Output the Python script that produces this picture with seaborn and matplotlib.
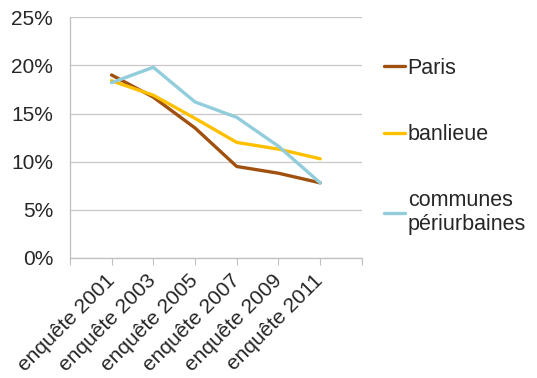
import pandas as pd
import matplotlib.pyplot as plt
import seaborn as sns
from matplotlib.ticker import PercentFormatter

# Values (in %)
enquetes = ["enquête 2001", "enquête 2003", "enquête 2005",
            "enquête 2007", "enquête 2009", "enquête 2011"]
paris = [19.0, 16.7, 13.5, 9.5, 8.8, 7.8]
banlieue = [18.4, 16.9, 14.5, 12.0, 11.3, 10.3]
periurbain = [18.2, 19.8, 16.2, 14.6, 11.6, 7.8]

series = {
    "Paris": paris,
    "banlieue": banlieue,
    "communes\npériurbaines": periurbain,
}
colors = {
    "Paris": "#A0500F",
    "banlieue": "#FFC000",
    "communes\npériurbaines": "#92CDDC",
}

rows = []
for name, vals in series.items():
    for i, v in enumerate(vals):
        rows.append({"pos": i, "enquete": enquetes[i], "zone": name, "pct": v})
df = pd.DataFrame(rows)

sns.set_style("white")
plt.rcParams["font.family"] = ["Liberation Sans", "DejaVu Sans"]

fig = plt.figure(figsize=(5.37, 3.78), dpi=100)
ax = fig.add_axes([0.130, 0.3175, 0.544, 0.637])

sns.lineplot(data=df, x="pos", y="pct", hue="zone", hue_order=list(series.keys()),
             palette=colors, linewidth=2.4, ax=ax, legend=False)

ax.set_ylim(0, 25)
ax.set_yticks([0, 5, 10, 15, 20, 25])
ax.yaxis.set_major_formatter(PercentFormatter(decimals=0))
ax.set_xlim(-1, 6)
ax.set_xticks(range(-1, 7))
ax.set_xticklabels([""] + enquetes + [""], rotation=45, ha="right",
                   va="center", rotation_mode="anchor")
ax.tick_params(axis="x", length=5, color="#BFBFBF", direction="out",
               labelsize=15, pad=9, bottom=True)
ax.tick_params(axis="y", length=0, labelsize=15, pad=12)
ax.grid(axis="y", color="#C8C8C8", linewidth=0.9)
ax.set_axisbelow(True)
for s in ["top", "right"]:
    ax.spines[s].set_visible(False)
for s in ["left", "bottom"]:
    ax.spines[s].set_color("#BFBFBF")
    ax.spines[s].set_linewidth(0.9)
ax.set_xlabel("")
ax.set_ylabel("")

handles = [plt.Line2D([], [], color=colors[k], linewidth=2.4) for k in series]
fig.legend(handles, list(series.keys()), loc="upper left",
           bbox_to_anchor=(0.715, 0.847), frameon=False, fontsize=15.5,
           handlelength=1.0, handletextpad=0.1, labelspacing=2.1,
           borderpad=0, borderaxespad=0)

fig.savefig("out.png", dpi=100)
